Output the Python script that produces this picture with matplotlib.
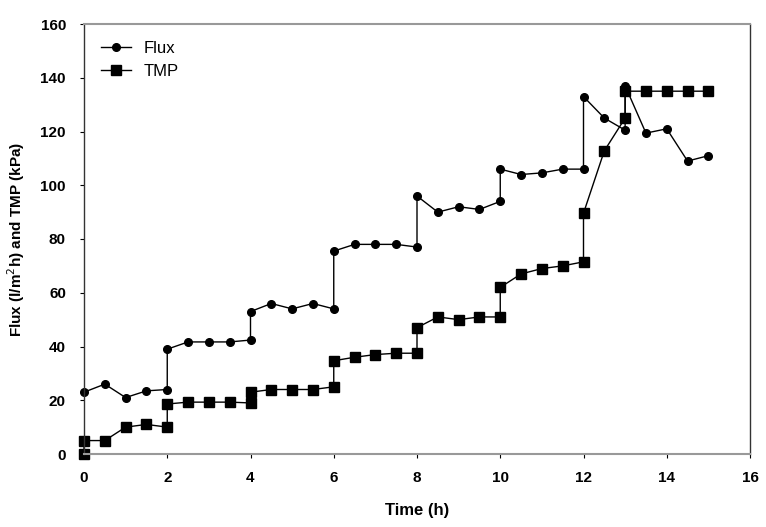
import matplotlib
matplotlib.use("Agg")
import matplotlib.pyplot as plt

plt.rcParams['font.family'] = ['Liberation Sans', 'DejaVu Sans']

flux_t = [0, 0.5, 1, 1.5, 2, 2, 2.5, 3, 3.5, 4, 4, 4.5, 5, 5.5, 6, 6, 6.5, 7, 7.5, 8,
          8, 8.5, 9, 9.5, 10, 10, 10.5, 11, 11.5, 12, 12, 12.5, 13, 13, 13.5, 14, 14.5, 15]
flux_v = [23, 26, 21, 23.5, 24, 39, 41.7, 41.7, 41.7, 42.4, 53, 56, 54, 56, 54, 75.5, 78, 78, 78, 77,
          96, 90, 92, 91, 94, 106, 104, 104.6, 106, 106, 133, 125, 120.5, 137, 119.4, 121, 109, 111]

tmp_t = [0, 0, 0.5, 1, 1.5, 2, 2, 2.5, 3, 3.5, 4, 4, 4.5, 5, 5.5, 6, 6, 6.5, 7, 7.5, 8,
         8, 8.5, 9, 9.5, 10, 10, 10.5, 11, 11.5, 12, 12, 12.5, 13, 13, 13.5, 14, 14.5, 15]
tmp_v = [0, 5, 5, 10, 11, 10, 18.6, 19.3, 19.3, 19.3, 19, 23, 24, 24, 24, 25, 34.7, 36, 37, 37.5, 37.5,
         47, 51, 50, 51, 51, 62, 67, 69, 70, 71.5, 89.6, 112.8, 125, 135, 135, 135, 135, 135]

x_ticks = [0, 2, 4, 6, 8, 10, 12, 14, 16]
y_ticks = [0, 20, 40, 60, 80, 100, 120, 140, 160]

fig = plt.figure(figsize=(7.66, 5.27), dpi=100)
ax = fig.add_axes([84/766, 73/527, 666/766, 430/527])

ax.plot(flux_t, flux_v, color='black', lw=1.0, marker='o', ms=5.5, label='Flux', clip_on=False)
ax.plot(tmp_t, tmp_v, color='black', lw=1.0, marker='s', ms=7, label='TMP', clip_on=False)

ax.set_xlim(0, 16)
ax.set_ylim(0, 160)
ax.set_xticks(x_ticks)
ax.set_yticks(y_ticks)
ax.tick_params(axis='x', labelsize=11, length=3, direction='out', width=0.8, pad=9)
ax.tick_params(axis='y', labelsize=11, length=3, direction='out', width=0.8, pad=10)
for lab in ax.get_xticklabels() + ax.get_yticklabels():
    lab.set_fontweight('bold')

for side in ['top', 'bottom']:
    ax.spines[side].set_color('#999999')
    ax.spines[side].set_linewidth(1.5)
for side in ['left', 'right']:
    ax.spines[side].set_color('#333333')
    ax.spines[side].set_linewidth(1.0)

ax.set_xlabel('Time (h)', fontsize=12, fontweight='bold', labelpad=13)
ax.set_ylabel('Flux (l/m$^2$h) and TMP (kPa)', fontsize=11, fontweight='bold', labelpad=10)

ax.legend(loc='upper left', frameon=False, fontsize=12, handlelength=1.8,
          borderaxespad=0.6, labelspacing=0.5)

fig.savefig('out.png', dpi=100)
